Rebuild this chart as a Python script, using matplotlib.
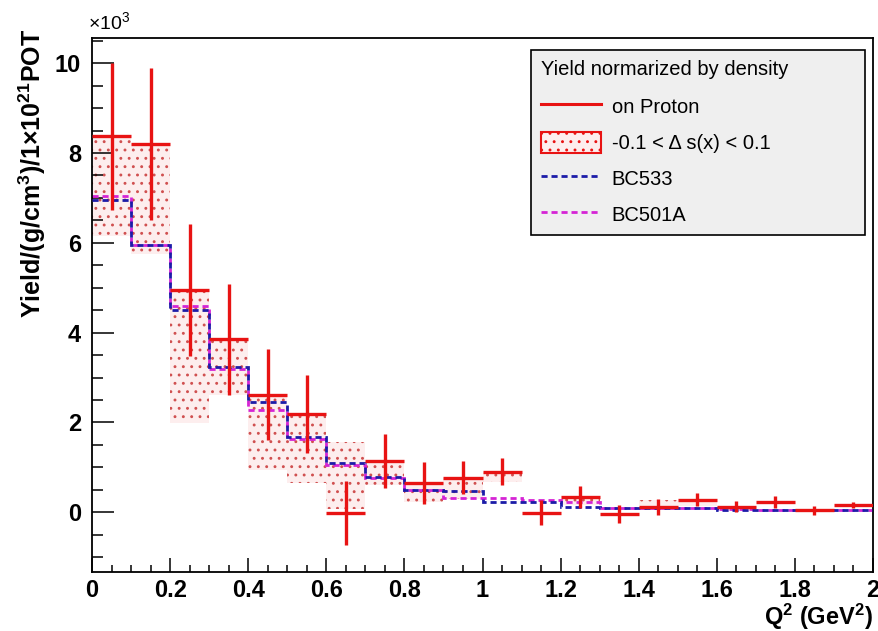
import numpy as np
import matplotlib
matplotlib.use("Agg")
import matplotlib.pyplot as plt
from matplotlib.lines import Line2D
from matplotlib.patches import Patch
from matplotlib.ticker import MultipleLocator, FixedLocator

plt.rcParams['font.family'] = ['Liberation Sans', 'DejaVu Sans']
plt.rcParams['mathtext.default'] = 'regular'
plt.rcParams['hatch.linewidth'] = 0.9

# Q^2 binning (GeV^2)
q2_edges = [0.0, 0.1, 0.2, 0.3, 0.4, 0.5, 0.6, 0.7, 0.8, 0.9, 1.0,
            1.1, 1.2, 1.3, 1.4, 1.5, 1.6, 1.7, 1.8, 1.9, 2.0]

# yields in units of 10^3
proton = [8.37, 8.20, 4.94, 3.85, 2.62, 2.18, -0.01, 1.14, 0.65, 0.77,
          0.90, -0.01, 0.34, -0.03, 0.12, 0.28, 0.12, 0.23, 0.04, 0.16]
proton_err = [1.64, 1.70, 1.47, 1.24, 1.02, 0.87, 0.71, 0.60, 0.47, 0.37,
              0.30, 0.28, 0.24, 0.20, 0.18, 0.15, 0.12, 0.14, 0.09, 0.07]

# delta s(x) variation band
band_lo = [6.15, 5.75, 1.98, 2.60, 0.95, 0.65, 0.08, 0.60, 0.22, 0.30,
           0.67, 0.00, 0.16, 0.00, 0.10, 0.15, 0.00, 0.00, 0.00, 0.00]
band_hi = [8.37, 8.20, 4.94, 3.85, 2.62, 2.18, 1.57, 1.14, 0.65, 0.77,
           0.90, 0.00, 0.30, 0.00, 0.27, 0.27, 0.00, 0.00, 0.00, 0.00]

bc533 = [6.95, 5.95, 4.51, 3.23, 2.46, 1.68, 1.09, 0.79, 0.49, 0.47,
         0.23, 0.23, 0.12, 0.10, 0.09, 0.09, 0.06, 0.05, 0.04, 0.04]
bc501a = [7.04, 5.95, 4.60, 3.20, 2.27, 1.63, 1.06, 0.76, 0.49, 0.31,
          0.31, 0.27, 0.23, 0.10, 0.09, 0.09, 0.07, 0.06, 0.05, 0.05]

x_ticks = [0.0, 0.2, 0.4, 0.6, 0.8, 1.0, 1.2, 1.4, 1.6, 1.8, 2.0]
x_ticklabels = ['0', '0.2', '0.4', '0.6', '0.8', '1', '1.2', '1.4', '1.6', '1.8', '2']
y_ticks = [0, 2, 4, 6, 8, 10]
y_ticklabels = ['0', '2', '4', '6', '8', '10']

RED = '#e81313'
BLUE = '#1c1ca8'
MAGENTA = '#d524d5'
BAND_FACE = '#fdeeee'
BAND_DOT = '#d05050'
DASH = (0, (2.2, 1.4))

edges = np.array(q2_edges)
lo = np.array(band_lo)
hi = np.array(band_hi)
centers = 0.5 * (edges[:-1] + edges[1:])
widths = np.diff(edges)

fig = plt.figure(figsize=(8.79, 6.31), dpi=100)
ax = fig.add_axes([0.1047, 0.0935, 0.8885, 0.8463])

ax.bar(edges[:-1], hi - lo, bottom=lo, width=widths, align='edge',
       facecolor=BAND_FACE, edgecolor=BAND_DOT, linewidth=0, hatch='..', zorder=1)

ax.stairs(bc501a, edges, baseline=None, color=MAGENTA, linewidth=2.0,
          linestyle=DASH, zorder=2)
ax.stairs(bc533, edges, baseline=None, color=BLUE, linewidth=2.0,
          linestyle=DASH, zorder=3)

ax.errorbar(centers, proton, xerr=widths / 2, yerr=proton_err, fmt='none',
            ecolor=RED, elinewidth=2.4, capsize=0, zorder=4)

ax.set_xlim(0, 2)
ax.set_ylim(-1.33, 10.56)

ax.xaxis.set_major_locator(FixedLocator(x_ticks))
ax.set_xticklabels(x_ticklabels)
ax.xaxis.set_minor_locator(MultipleLocator(0.05))
ax.yaxis.set_major_locator(FixedLocator(y_ticks))
ax.set_yticklabels(y_ticklabels)
ax.yaxis.set_minor_locator(MultipleLocator(0.5))

ax.tick_params(which='both', direction='in', top=False, right=False)
ax.tick_params(axis='x', which='major', length=10, width=1.1, pad=5)
ax.tick_params(axis='x', which='minor', length=5, width=1.1)
ax.tick_params(axis='y', which='major', length=16, width=1.1, pad=8)
ax.tick_params(axis='y', which='minor', length=8, width=1.1)
for lab in ax.get_xticklabels() + ax.get_yticklabels():
    lab.set_fontsize(17)
    lab.set_fontweight('bold')
for sp in ax.spines.values():
    sp.set_linewidth(1.3)

ax.text(1.0, -0.056, r'Q$^{2}$ (GeV$^{2}$)', transform=ax.transAxes,
        ha='right', va='top', fontsize=17, fontweight='bold')
ax.text(-0.077, 1.017, r'Yield/(g/cm$^{3}$)/1×10$^{21}$POT', transform=ax.transAxes,
        rotation=90, ha='center', va='top', fontsize=18, fontweight='bold')
ax.text(-0.005, 1.017, r'×10$^{3}$', transform=ax.transAxes, ha='left',
        va='baseline', fontsize=14)

handles = [
    Line2D([], [], color=RED, linewidth=2.2),
    Patch(facecolor=BAND_FACE, edgecolor=RED, linewidth=1.5, hatch='..'),
    Line2D([], [], color=BLUE, linewidth=2.0, linestyle=DASH),
    Line2D([], [], color=MAGENTA, linewidth=2.0, linestyle=DASH),
]
labels = ['on Proton', '-0.1 < Δ s(x) < 0.1', 'BC533', 'BC501A']
leg = ax.legend(handles, labels, title='Yield normarized by density',
                loc='upper left', bbox_to_anchor=(0.562, 0.9775, 0.428, 0.0),
                mode='expand', fontsize=14.5, title_fontsize=14.5, alignment='left',
                frameon=True, fancybox=False, facecolor='#efefef', edgecolor='black',
                framealpha=1, handlelength=3.0, handleheight=1.25, handletextpad=0.5,
                labelspacing=0.72, borderpad=0.5, borderaxespad=0)
leg.get_frame().set_linewidth(1.2)
# a little extra room between the header and the entries
leg._legend_box.sep = 12

fig.savefig('out.png', dpi=100)
